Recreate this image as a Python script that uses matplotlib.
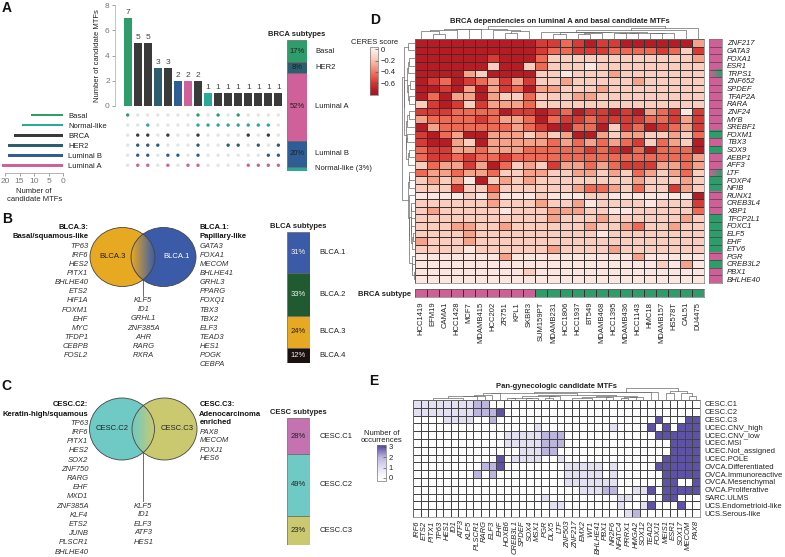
import numpy as np
import matplotlib
matplotlib.use('Agg')
import matplotlib.pyplot as plt
from matplotlib.colors import LinearSegmentedColormap, ListedColormap, Normalize, to_rgb
from matplotlib.cm import ScalarMappable
from matplotlib.patches import Ellipse

plt.rcParams['font.family'] = ['Liberation Sans', 'DejaVu Sans']
plt.rcParams['font.size'] = 5.5
plt.rcParams['axes.linewidth'] = 0.5

# ========== PANEL A DATA ==========
set_names = ['Basal', 'Normal-like', 'BRCA', 'HER2', 'Luminal B', 'Luminal A']
set_colors = ['#2e9d6b', '#2aa89a', '#3a3a3a', '#2c5e70', '#2f5e97', '#d0609a']
intersections = [
    ['Basal'],
    ['BRCA', 'HER2', 'Luminal B', 'Luminal A'],
    ['Normal-like', 'BRCA', 'HER2', 'Luminal B', 'Luminal A'],
    ['HER2'],
    ['BRCA', 'Luminal B', 'Luminal A'],
    ['Luminal B'],
    ['Luminal A'],
    ['Basal', 'Normal-like', 'BRCA', 'HER2', 'Luminal B', 'Luminal A'],
    ['Normal-like'],
    ['Basal', 'Normal-like'],
    ['Normal-like', 'HER2'],
    ['Basal', 'Normal-like', 'HER2'],
    ['Normal-like', 'BRCA', 'Luminal A'],
    ['Normal-like', 'HER2', 'Luminal A'],
    ['Normal-like', 'BRCA', 'Luminal B', 'Luminal A'],
    ['HER2', 'Luminal B', 'Luminal A'],
]
inter_sizes = [7, 5, 5, 3, 3, 2, 2, 2, 1, 1, 1, 1, 1, 1, 1, 1]

brca_subtypes = ['Basal', 'HER2', 'Luminal A', 'Luminal B', 'Normal-like']
brca_pct = [17, 8, 52, 20, 3]
brca_colors = ['#2e9d6b', '#2c5e70', '#d0609a', '#2f5e97', '#2aa89a']

# ========== PANEL B / C DATA ==========
blca_subtypes = ['BLCA.1', 'BLCA.2', 'BLCA.3', 'BLCA.4']
blca_pct = [31, 33, 24, 12]
blca_colors = ['#3b5ba8', '#1f5a30', '#e8a922', '#1a1010']
blca3_head = ['BLCA.3:', 'Basal/squamous-like']
blca3_genes = ['TP63', 'IRF6', 'HES2', 'PITX1', 'BHLHE40', 'ETS2', 'HIF1A', 'FOXM1',
               'EHF', 'MYC', 'TFDP1', 'CEBPB', 'FOSL2']
blca1_head = ['BLCA.1:', 'Papillary-like']
blca1_genes = ['GATA3', 'FOXA1', 'MECOM', 'BHLHE41', 'GRHL3', 'PPARG', 'FOXQ1', 'TBX3',
               'TBX2', 'ELF3', 'TEAD3', 'HES1', 'POGK', 'CEBPA']
blca_shared = ['KLF5', 'ID1', 'GRHL1', 'ZNF385A', 'AHR', 'RARG', 'RXRA']

cesc_subtypes = ['CESC.C1', 'CESC.C2', 'CESC.C3']
cesc_pct = [28, 49, 23]
cesc_colors = ['#c472b2', '#6fcac6', '#cbc96f']
cesc2_head = ['CESC.C2:', 'Keratin-high/squamous']
cesc2_genes = ['TP63', 'IRF6', 'PITX1', 'HES2', 'SOX2', 'ZNF750', 'RARG', 'EHF', 'MXD1',
               'ZNF385A', 'KLF4', 'ETS2', 'JUNB', 'PLSCR1', 'BHLHE40']
cesc3_head = ['CESC.C3:', 'Adenocarcinoma', 'enriched']
cesc3_genes = ['PAX8', 'MECOM', 'FOXJ1', 'HES6']
cesc_shared = ['KLF5', 'ID1', 'ELF3', 'ATF3', 'HES1']

# ========== PANEL D DATA ==========
cell_lines = ['HCC1419', 'EFM19', 'CAMA1', 'HCC1428', 'MCF7', 'MDAMB415', 'HCC202', 'ZR751',
              'KPL1', 'SKBR3', 'SUM159PT', 'MDAMB231', 'HCC1806', 'HCC1937', 'BT549',
              'MDAMB468', 'HCC1395', 'MDAMB436', 'HCC1143', 'HMC18', 'MDAMB157', 'HS578T',
              'CAL51', 'DU4475']
cell_subtype = ['Luminal A'] * 10 + ['Basal'] * 14
mtf_genes = ['ZNF217', 'GATA3', 'FOXA1', 'ESR1', 'TRPS1', 'ZNF652', 'SPDEF', 'TFAP2A', 'RARA',
             'ZNF24', 'MYB', 'SREBF1', 'FOXM1', 'TBX3', 'SOX9', 'AEBP1', 'AFF3', 'LTF', 'FOXP4',
             'NFIB', 'RUNX1', 'CREB3L4', 'XBP1', 'TFCP2L1', 'FOXC1', 'ELF5', 'EHF', 'ETV6', 'PGR',
             'CREB3L2', 'PBX1', 'BHLHE40']
mtf_type = ['A', 'A', 'A', 'A', 'AB', 'A', 'A', 'A', 'A', 'A', 'A', 'A', 'B', 'A', 'B', 'A',
            'A', 'AB', 'B', 'B', 'A', 'A', 'A', 'B', 'B', 'B', 'B', 'B', 'A', 'B', 'A', 'A']
# CERES score read as shade level (0 lightest .. 5 darkest)
ceres_scale = [-0.05, -0.16, -0.30, -0.44, -0.58, -0.72]
ceres_rows = [
    '5555555555 44345445555552',
    '5555555555 43344433334314',
    '5555554555 31111111111112',
    '5555551551 31110111111111',
    '5555215555 11011121111111',
    '5435432424 11211111211111',
    '5545252435 22111211111111',
    '5352252113 11122111111111',
    '1454142223 11111111111111',
    '4443333544 54354454523404',
    '2333343223 53443444433424',
    '5233333323 45533514354324',
    '4532552221 21255212211213',
    '4552152222 23232323413215',
    '3442232223 33334345353335',
    '3443433433 33333333333332',
    '1322425312 14223234442232',
    '3223223112 21122121321231',
    '1212051212 11111111211121',
    '1114113111 11123321311421',
    '0000102000 10001100000005',
    '1111112111 21120111101114',
    '1211111011 12221100111113',
    '1111111111 12111211111121',
    '1112211211 11112112311211',
    '1111211111 11111011111111',
    '2111211111 11111111111111',
    '1111011111 12111121111111',
    '0000000200 00000000200000',
    '0000000000 00000000001020',
    '0000000001 00000000000000',
    '0000000000 00000000000000',
]

# ========== PANEL E DATA ==========
gyn_groups = ['CESC.C1', 'CESC.C2', 'CESC.C3', 'UCEC.CNV_high', 'UCEC.CNV_low', 'UCEC.MSI',
              'UCEC.Not_assigned', 'UCEC.POLE', 'OVCA.Differentiated', 'OVCA.Immunoreactive',
              'OVCA.Mesenchymal', 'OVCA.Proliferative', 'SARC.ULMS', 'UCS.Endometrioid-like',
              'UCS.Serous-like']
gyn_mtfs = ['IRF6', 'ETS2', 'PITX1', 'TP63', 'HES1', 'ID1', 'ATF3', 'KLF5', 'PLSCR1', 'RARG',
            'ELF3', 'EHF', 'HOXB6', 'CREB3L1', 'SPDEF', 'SOX4', 'MSX1', 'PGR', 'DLX5', 'LTF',
            'ZNF503', 'ZNF217', 'EMX2', 'WT1', 'BHLHE41', 'PBX1', 'NR2F6', 'NFATC4', 'PRRX1',
            'HMGA2', 'SOX12', 'TEAD2', 'FOXJ1', 'MEIS1', 'ESR1', 'SOX17', 'MECOM', 'PAX8']
occurrence_rows = [
    '1111111122 0000000000 0000000000 00000000',
    '1111111122 2300000000 0000000000 00000000',
    '0000111100 2000000000 0000000000 00300033',
    '0000000000 0000001000 0000001000 03030333',
    '0000000000 0011111222 0000000000 00333333',
    '0000000000 0011111222 0000000000 00003333',
    '0000000000 0000111220 0000000000 00003333',
    '0000000000 0301111001 0000000000 00033333',
    '0000000002 2300000000 1111101000 00333333',
    '0000000020 2000000000 1111101000 00033333',
    '0000000000 0000000000 1111111000 00033003',
    '0000000000 0000000000 0011122001 13033333',
    '0000000000 0000000100 0000000110 00033000',
    '0000000000 0000000011 0000000100 13000300',
    '0000000000 0000000000 0000000012 00000000',
]

# ========== FIGURE ==========
W, H = 785, 557
fig = plt.figure(figsize=(W / 100, H / 100), dpi=100)
TXT = '#222222'


def px_axes(x0, y0, x1, y1):
    return fig.add_axes([x0 / W, 1 - y1 / H, (x1 - x0) / W, (y1 - y0) / H])


def value_cmap(nodes, colors):
    lo, hi = nodes[0], nodes[-1]
    pos = [(v - lo) / (hi - lo) for v in nodes]
    return LinearSegmentedColormap.from_list('c', list(zip(pos, colors))), Normalize(lo, hi)


def ordered_links(obs):
    # agglomerate only neighbouring clusters so leaves keep the plotted order
    groups = [[i] for i in range(len(obs))]
    pos = [float(i) for i in range(len(obs))]
    hgt = [0.0] * len(obs)
    links = []
    while len(groups) > 1:
        dists = [np.mean([np.linalg.norm(obs[a] - obs[b]) for a in groups[k] for b in groups[k + 1]])
                 for k in range(len(groups) - 1)]
        k = int(np.argmin(dists))
        h = max(dists[k], hgt[k], hgt[k + 1])
        links.append((pos[k], hgt[k], pos[k + 1], hgt[k + 1], h))
        groups[k:k + 2] = [groups[k] + groups[k + 1]]
        pos[k:k + 2] = [(pos[k] + pos[k + 1]) / 2]
        hgt[k:k + 2] = [h]
    return links, hgt[0]


def draw_dendro(ax, obs, orient='top'):
    n = len(obs)
    links, top = ordered_links(obs)
    for pa, ha, pb, hb, h in links:
        xs = [pa + .5, pa + .5, pb + .5, pb + .5]
        ys = [ha, h, h, hb]
        if orient != 'top':
            xs, ys = ys, xs
        ax.plot(xs, ys, color='#6a6a6a', lw=0.5, clip_on=False)
    if orient == 'top':
        ax.set_xlim(0, n)
        ax.set_ylim(0, top * 1.02)
    else:
        ax.set_ylim(n, 0)
        ax.set_xlim(top * 1.02, 0)
    ax.axis('off')


def subtype_bar(box, names, pct, colors, txt_colors, title):
    ax = px_axes(*box)
    bottoms = np.cumsum([0] + pct[:-1])
    ax.bar(0, pct, bottom=bottoms, width=1, color=colors, edgecolor='#666666', lw=0.5)
    ax.set_xlim(-0.5, 0.5)
    ax.set_ylim(sum(pct), 0)
    ax.axis('off')
    ax.set_title(title, fontsize=5.5, fontweight='bold', pad=3, color=TXT)
    for name, p, b, tc in zip(names, pct, bottoms, txt_colors):
        if p >= 5:
            ax.text(0, b + p / 2, f'{p}%', ha='center', va='center', fontsize=5.5, color=tc)
            label = name
        else:
            label = f'{name} ({p}%)'
        ax.text(0.9, b + p / 2, label, ha='left', va='center', fontsize=5.5, color=TXT,
                clip_on=False)


# overlay for venn diagrams, gene lists and panel letters (pixel coordinates)
ov = fig.add_axes([0, 0, 1, 1])
ov.axis('off')

# ---------- A: upset ----------
xpos = np.arange(len(inter_sizes))
bar_cols = [set_colors[set_names.index(m[0])] if len(m) == 1 else '#3a3a3a' for m in intersections]
ax_bar = px_axes(114.6, 5, 283.4, 106)
ax_bar.bar(xpos, inter_sizes, width=0.78, color=bar_cols)
for xi, v in zip(xpos, inter_sizes):
    ax_bar.text(xi, v + 0.15, str(v), ha='center', va='bottom', fontsize=6, color='#444444')
ax_bar.set_xlim(-1.3, 15.5)
ax_bar.set_ylim(0, 8)
for s in ['top', 'right', 'bottom']:
    ax_bar.spines[s].set_visible(False)
ax_bar.spines['left'].set_color('#aaaaaa')
ax_bar.set_xticks([])
ax_bar.set_yticks([0, 2, 4, 6, 8])
ax_bar.tick_params(axis='y', labelsize=6, colors='#777777', length=2, width=0.5, pad=1.5)
ax_bar.set_ylabel('Number of candidate MTFs', fontsize=5.5, color=TXT, labelpad=3)

ax_dot = px_axes(114.6, 110, 283.4, 170.3)
dx, dy, dc = [], [], []
for j, mem in enumerate(intersections):
    for i, s in enumerate(set_names):
        dx.append(j)
        dy.append(i)
        dc.append(set_colors[i] if s in mem else '#e4e4e4')
ax_dot.scatter(dx, dy, s=6, c=dc, lw=0)
ax_dot.set_xlim(-1.3, 15.5)
ax_dot.set_ylim(5.5, -0.5)
ax_dot.axis('off')

set_sizes = [sum(sz for mem, sz in zip(intersections, inter_sizes) if s in mem) for s in set_names]
ax_set = px_axes(5, 110, 63.3, 173.3)
ax_set.barh(range(len(set_names)), set_sizes, height=0.28, color=set_colors, clip_on=False)
ax_set.set_xlim(20, 0)
ax_set.set_ylim(5.8, -0.5)
for s in ['top', 'right', 'left']:
    ax_set.spines[s].set_visible(False)
ax_set.spines['bottom'].set_color('#999999')
ax_set.set_xticks([20, 15, 10, 5, 0])
ax_set.tick_params(axis='x', labelsize=6, colors='#777777', length=2, width=0.5, pad=1.5)
ax_set.yaxis.set_ticks_position('right')
ax_set.set_yticks(range(len(set_names)), set_names)
ax_set.tick_params(axis='y', length=0, pad=3.5, labelsize=5.5, labelcolor=TXT)
ax_set.set_xlabel('Number of\ncandidate MTFs', fontsize=5.5, color=TXT, labelpad=2)

subtype_bar((287, 40, 307, 170.7), brca_subtypes, brca_pct, brca_colors, [TXT] * 5,
            'BRCA subtypes')


# ---------- B / C: venn diagrams ----------
def venn(cl, cr, cy, a, b, col_l, col_r, lab_l, lab_r, lab_r_col):
    ov.add_patch(Ellipse((cl, cy), 2 * a, 2 * b, facecolor=col_l, edgecolor='none', zorder=1))
    ov.add_patch(Ellipse((cr, cy), 2 * a, 2 * b, facecolor=col_r, edgecolor='none', zorder=1))
    x0, x1 = cr - a, cl + a
    gx, gy = np.meshgrid(np.linspace(x0, x1, 120), np.linspace(cy - b, cy + b, 200))
    inside = (((gx - cl) / a) ** 2 + ((gy - cy) / b) ** 2 <= 1) & \
             (((gx - cr) / a) ** 2 + ((gy - cy) / b) ** 2 <= 1)
    t = ((gx - x0) / (x1 - x0))[..., None]
    img = np.concatenate([(1 - t) * np.array(to_rgb(col_l)) + t * np.array(to_rgb(col_r)),
                          inside[..., None].astype(float)], axis=2)
    ov.imshow(img, extent=(x0, x1, cy + b, cy - b), aspect='auto', zorder=2,
              interpolation='bilinear')
    for c in (cl, cr):
        ov.add_patch(Ellipse((c, cy), 2 * a, 2 * b, facecolor='none', edgecolor='#444444',
                             lw=0.6, zorder=3))
    ov.text(cl - 10, cy, lab_l, ha='center', va='center', fontsize=5.5, color=TXT, zorder=4)
    ov.text(cr + 13, cy, lab_r, ha='center', va='center', fontsize=5.5, color=lab_r_col, zorder=4)


def gene_list(x, y0, head, genes, ha, step=9.15):
    for k, t in enumerate(head):
        ov.text(x, y0 + k * step, t, ha=ha, va='center', fontsize=5.5, fontweight='bold', color='#111111')
    for k, g in enumerate(genes):
        ov.text(x, y0 + (len(head) + k) * step, g, ha=ha, va='center', fontsize=5.5,
                style='italic', color='#333333')


venn(122.5, 163.5, 257, 32.5, 29.5, blca_colors[2], blca_colors[0], 'BLCA.3', 'BLCA.1', 'white')
gene_list(88.3, 227.7, blca3_head, blca3_genes, 'right')
gene_list(199.3, 227.7, blca1_head, blca1_genes, 'left')
gene_list(143.3, 300.7, [], blca_shared, 'center')
ov.plot([143.3, 143.3], [279, 296], color='#555555', lw=0.6)
subtype_bar((287, 232.3, 310, 363.3), blca_subtypes, blca_pct, blca_colors,
            ['#f0f0f0', '#f0f0f0', TXT, '#f0f0f0'], 'BLCA subtypes')

venn(122, 164.5, 429, 32.5, 31, cesc_colors[1], cesc_colors[2], 'CESC.C2', 'CESC.C3', TXT)
gene_list(88.3, 405, cesc2_head, cesc2_genes, 'right', step=9.2)
gene_list(199.3, 405, cesc3_head, cesc3_genes, 'left', step=9.0)
gene_list(143.3, 506, [], cesc_shared, 'center', step=9.0)
ov.plot([143.3, 143.3], [452, 501], color='#555555', lw=0.6)
subtype_bar((287, 418.3, 310, 545), cesc_subtypes, cesc_pct, cesc_colors, [TXT] * 3,
            'CESC subtypes')

# ---------- D: BRCA dependency heatmap ----------
ceres = np.array([[ceres_scale[int(c)] for c in r.replace(' ', '')] for r in ceres_rows])
cmap_d, norm_d = value_cmap([-0.806, -0.72, -0.58, -0.44, -0.30, -0.16, -0.05, 0.046],
                            ['#a6121d', '#b71c24', '#d93a36', '#ef6a55', '#f6a089', '#fbcdbd',
                             '#fde6df', '#fff6f3'])
pink, green = np.array(to_rgb('#cf5f97')), np.array(to_rgb('#2e9d6b'))

ax_d = px_axes(415, 39, 704, 283)
ax_d.pcolormesh(ceres, cmap=cmap_d, norm=norm_d, edgecolors='#333333', linewidth=0.4)
ax_d.set_xlim(0, len(cell_lines))
ax_d.set_ylim(len(mtf_genes), 0)
ax_d.set_xticks([])
ax_d.set_yticks([])
for s in ax_d.spines.values():
    s.set_color('#777777')
ax_d.set_title('BRCA dependencies on luminal A and basal candidate MTFs', fontsize=5.5,
               fontweight='bold', color=TXT, pad=11.5)

draw_dendro(px_axes(415, 26, 704, 38.5), ceres.T, 'top')
draw_dendro(px_axes(402, 39, 414.5, 283), ceres, 'left')

ann = np.zeros((len(mtf_genes), 20, 3))
ramp = np.linspace(0, 1, 20)[:, None]
for i, t in enumerate(mtf_type):
    ann[i] = pink if t == 'A' else green if t == 'B' else (1 - ramp) * pink + ramp * green
ax_r = px_axes(709, 39, 722, 283)
ax_r.imshow(ann, extent=(0, 1, len(mtf_genes), 0), aspect='auto', interpolation='nearest')
ax_r.hlines(np.arange(1, len(mtf_genes)), 0, 1, color='#333333', lw=0.4)
ax_r.set_xlim(0, 1)
ax_r.set_ylim(len(mtf_genes), 0)
ax_r.set_xticks([])
ax_r.yaxis.set_ticks_position('right')
ax_r.set_yticks(np.arange(len(mtf_genes)) + 0.5, mtf_genes, style='italic')
ax_r.tick_params(axis='y', length=0, pad=3.5, labelsize=5.5, labelcolor=TXT)
for s in ax_r.spines.values():
    s.set_color('#777777')

ax_b = px_axes(415, 289, 704, 297)
ax_b.pcolormesh([[0 if c == 'Luminal A' else 1 for c in cell_subtype]],
                cmap=ListedColormap([pink, green]), vmin=0, vmax=1,
                edgecolors='#333333', linewidth=0.4)
ax_b.set_xlim(0, len(cell_lines))
ax_b.set_ylim(1, 0)
ax_b.set_xticks(np.arange(len(cell_lines)) + 0.5, cell_lines, rotation=90)
ax_b.set_yticks([0.5], ['BRCA subtype'], fontweight='bold')
ax_b.tick_params(length=0, labelsize=5.5, labelcolor=TXT)
ax_b.tick_params(axis='x', pad=3.5)
ax_b.tick_params(axis='y', pad=3)
for s in ax_b.spines.values():
    s.set_color('#777777')

cax_d = px_axes(370, 46.7, 378.3, 95)
cb_d = fig.colorbar(ScalarMappable(norm_d, cmap_d), cax=cax_d, ticks=[0, -0.2, -0.4, -0.6])
cb_d.set_ticklabels(['0', '\u22120.2', '\u22120.4', '\u22120.6'])
cb_d.ax.tick_params(labelsize=5.5, length=2, width=0.5, direction='in', colors='#555555',
                    labelcolor=TXT, pad=2)
cb_d.outline.set_linewidth(0.5)
cb_d.outline.set_edgecolor('#777777')
cax_d.set_title('CERES score', fontsize=5.5, color=TXT, pad=2)

# ---------- E: pan-gynecologic heatmap ----------
occ = np.array([[int(c) for c in r.replace(' ', '')] for r in occurrence_rows])
cmap_e, norm_e = value_cmap([-0.29, 0, 1, 2, 3, 3.19],
                            ['#ffffff', '#ffffff', '#e2e0f1', '#bcb6de', '#5f52a9', '#554799'])
ax_e = px_axes(413, 400, 700, 517)
ax_e.pcolormesh(occ, cmap=cmap_e, norm=norm_e, edgecolors='#444444', linewidth=0.4)
ax_e.set_xlim(0, len(gyn_mtfs))
ax_e.set_ylim(len(gyn_groups), 0)
ax_e.set_xticks(np.arange(len(gyn_mtfs)) + 0.5, gyn_mtfs, rotation=90, style='italic')
ax_e.yaxis.set_ticks_position('right')
ax_e.set_yticks(np.arange(len(gyn_groups)) + 0.5, gyn_groups)
ax_e.tick_params(length=0, labelsize=5.5, labelcolor=TXT)
ax_e.tick_params(axis='x', pad=2.5)
ax_e.tick_params(axis='y', pad=3.5)
for s in ax_e.spines.values():
    s.set_color('#777777')
ax_e.set_title('Pan-gynecologic candidate MTFs', fontsize=5.5, fontweight='bold', color=TXT,
               pad=9)
draw_dendro(px_axes(413, 388, 700, 399.5), occ.T.astype(float), 'top')

cax_e = px_axes(377, 445, 386, 481)
cb_e = fig.colorbar(ScalarMappable(norm_e, cmap_e), cax=cax_e, ticks=[0, 1, 2, 3])
cb_e.ax.tick_params(labelsize=5.5, length=2, width=0.5, direction='in', colors='#555555',
                    labelcolor=TXT, pad=2)
cb_e.outline.set_linewidth(0.5)
cb_e.outline.set_edgecolor('#777777')
cax_e.set_title('Number of\noccurrences', fontsize=5.5, color=TXT, pad=2, linespacing=1.0)

# ---------- panel letters ----------
for letter, (lx, ly) in {'A': (7, 8), 'B': (7, 219), 'C': (6, 386), 'D': (375, 20),
                         'E': (374, 381)}.items():
    ov.text(lx, ly, letter, ha='center', va='center', fontsize=10, fontweight='bold', color='#111111')

ov.set_xlim(0, W)
ov.set_ylim(H, 0)

fig.savefig('out.png', dpi=100)
